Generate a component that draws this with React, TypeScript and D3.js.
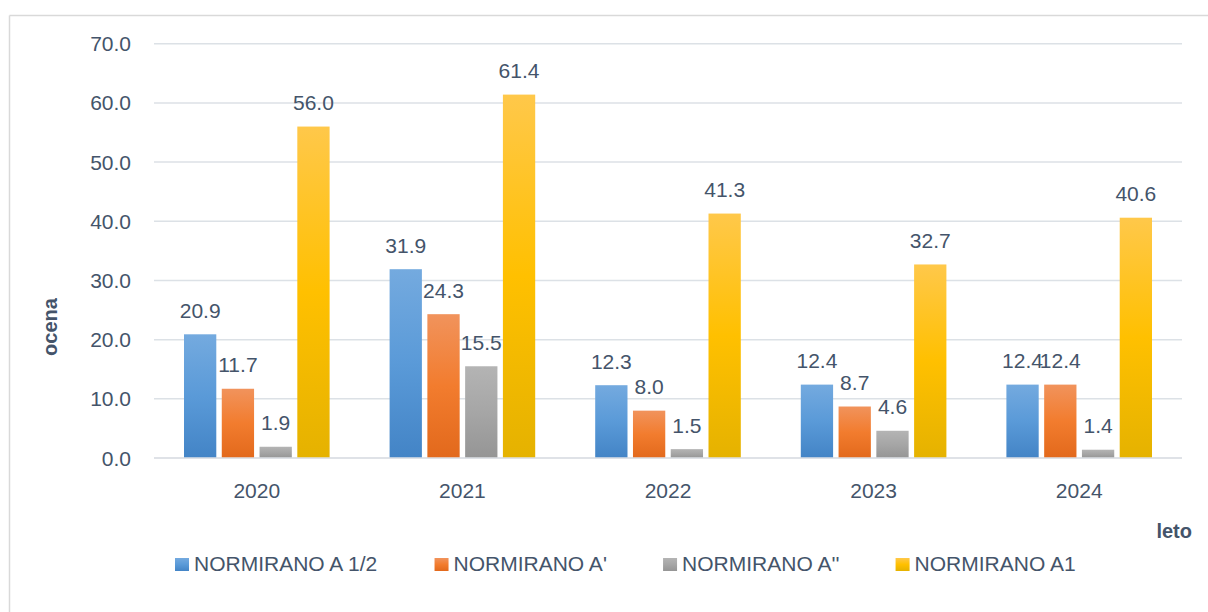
import React from "react";
import * as d3 from "d3";

const years = ["2020", "2021", "2022", "2023", "2024"];
const seriesNames = ["NORMIRANO A 1/2", "NORMIRANO A'", "NORMIRANO A''", "NORMIRANO A1"];
const valuesA12 = [20.9, 31.9, 12.3, 12.4, 12.4];
const valuesAp = [11.7, 24.3, 8.0, 8.7, 12.4];
const valuesApp = [1.9, 15.5, 1.5, 4.6, 1.4];
const valuesA1 = [56.0, 61.4, 41.3, 32.7, 40.6];
const yTicks = [0, 10, 20, 30, 40, 50, 60, 70];
const yTitle = "ocena";
const xTitle = "leto";

const allValues = [valuesA12, valuesAp, valuesApp, valuesA1];

const gradients = [
  ["#74AADF", "#5A9AD8", "#4384C6"],
  ["#F1935C", "#F27C2E", "#E2691C"],
  ["#B4B4B4", "#A6A6A6", "#959595"],
  ["#FFC84A", "#FFC000", "#E5B200"],
];

const FONT = "'Liberation Sans', Arial, sans-serif";
const TEXT = "#44546A";
const GRID = "#DCE1E6";

function measure(text: string, font: string): number {
  if (typeof document === "undefined") return text.length * 10;
  const c = document.createElement("canvas");
  const ctx = c.getContext("2d");
  if (!ctx) return text.length * 10;
  ctx.font = font;
  return ctx.measureText(text).width;
}

export default function App() {
  const W = 1208;
  const H = 612;
  const left = 154;
  const right = 1182;
  const top = 43.7;
  const bottom = 458;

  const x0 = d3.scaleBand<string>().domain(years).range([left, right]).padding(0);
  const groupPad = 30;
  const x1 = d3
    .scaleBand<string>()
    .domain(seriesNames)
    .range([groupPad, x0.bandwidth() - groupPad])
    .paddingInner(0.145)
    .paddingOuter(0);
  const y = d3.scaleLinear().domain([0, 70]).range([bottom, top]);

  // legend layout
  const legendFont = `21px ${FONT}`;
  const sq = 14;
  const sqGap = 5;
  const itemGap = 55;
  let lx = 175;
  const legendItems = seriesNames.map((name, i) => {
    const item = { name, i, x: lx };
    lx += sq + sqGap + measure(name, legendFont) + itemGap;
    return item;
  });

  return (
    <svg
      width={W}
      height={H}
      style={{ position: "absolute", left: 0, top: 0, background: "#fff" }}
      fontFamily={FONT}
    >
      <defs>
        {gradients.map((g, i) => (
          <linearGradient key={i} id={`grad${i}`} x1="0" y1="0" x2="0" y2="1">
            <stop offset="0%" stopColor={g[0]} />
            <stop offset="50%" stopColor={g[1]} />
            <stop offset="100%" stopColor={g[2]} />
          </linearGradient>
        ))}
      </defs>
      <rect x={0} y={0} width={W} height={H} fill="#fff" />
      {/* chart border */}
      <line x1={9.5} y1={15.5} x2={W} y2={15.5} stroke="#D9D9D9" strokeWidth={1.5} />
      <line x1={9.5} y1={15.5} x2={9.5} y2={H} stroke="#D9D9D9" strokeWidth={1.5} />

      {/* gridlines and tick labels */}
      {yTicks.map((t) => (
        <g key={t}>
          <line x1={left} x2={right} y1={y(t)} y2={y(t)} stroke={GRID} strokeWidth={1.5} />
          <text
            x={131}
            y={y(t) + 7.5}
            textAnchor="end"
            fontSize={21}
            fill={TEXT}
          >
            {t.toFixed(1)}
          </text>
        </g>
      ))}

      {/* bars */}
      {years.map((yr, yi) => (
        <g key={yr} transform={`translate(${x0(yr)},0)`}>
          {seriesNames.map((s, si) => {
            const v = allValues[si][yi];
            const bx = x1(s) as number;
            const bw = x1.bandwidth();
            return (
              <g key={s}>
                <rect
                  x={bx}
                  y={y(v)}
                  width={bw}
                  height={y(0) - y(v)}
                  fill={`url(#grad${si})`}
                />
                <text
                  x={bx + bw / 2}
                  y={y(v) - 16.5}
                  textAnchor="middle"
                  fontSize={21}
                  fill={TEXT}
                >
                  {v.toFixed(1)}
                </text>
              </g>
            );
          })}
          <text
            x={x0.bandwidth() / 2}
            y={497.5}
            textAnchor="middle"
            fontSize={21}
            fill={TEXT}
          >
            {yr}
          </text>
        </g>
      ))}

      {/* x axis line */}
      <line x1={left} x2={right} y1={y(0)} y2={y(0)} stroke={GRID} strokeWidth={1.5} />

      {/* axis titles */}
      <text
        transform={`translate(57,327) rotate(-90)`}
        textAnchor="middle"
        fontSize={20}
        fontWeight="bold"
        fill={TEXT}
      >
        {yTitle}
      </text>
      <text x={1192} y={538} textAnchor="end" fontSize={20} fontWeight="bold" fill={TEXT}>
        {xTitle}
      </text>

      {/* legend */}
      {legendItems.map((it) => (
        <g key={it.name}>
          <rect x={it.x} y={558} width={sq} height={13} fill={`url(#grad${it.i})`} />
          <text x={it.x + sq + sqGap} y={570.5} fontSize={21} fill={TEXT}>
            {it.name}
          </text>
        </g>
      ))}
    </svg>
  );
}
